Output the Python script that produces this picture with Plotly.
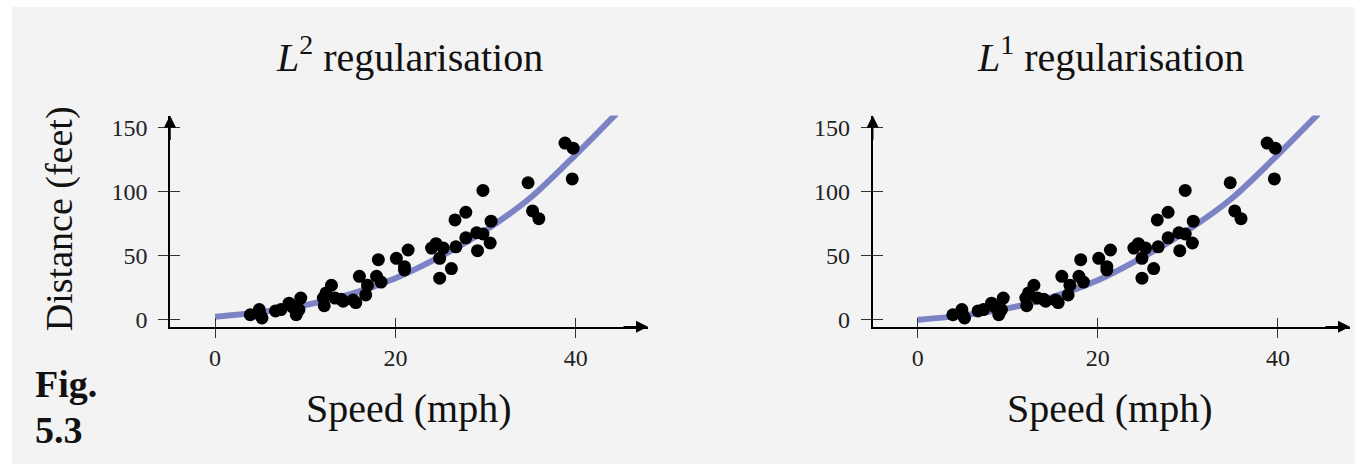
import plotly.graph_objects as go

# ---- data ----
speed = [3.9, 4.9, 5.2, 5.0, 6.7, 7.3, 8.2, 8.6, 9.0, 9.3, 9.5,
         12.1, 12.0, 12.3, 12.9, 13.3, 14.0, 14.2, 15.3, 15.6, 16.0,
         16.7, 16.9, 17.9, 18.4, 18.1, 20.1, 21.0, 21.0, 21.4,
         24.0, 24.5, 25.3, 24.9, 24.9, 26.2, 26.7, 26.6, 27.8, 27.8,
         29.0, 29.1, 29.7, 29.7, 30.5, 30.6, 34.7, 35.2, 35.9,
         38.8, 39.7, 39.6]
distance = [4, 8, 1.5, 4, 7, 8, 13, 10, 4, 8, 17,
            11, 17, 21, 27, 17, 16, 14.5, 15.5, 13.5, 34,
            19.5, 27, 34, 29.5, 47, 48, 41.5, 39, 54.5,
            56, 59.5, 56, 48, 32.5, 40, 57, 78, 84, 64,
            68, 54, 67, 101, 60, 77, 107, 85, 79,
            138, 134, 110]

curve_speed = [0, 5, 10, 15, 20, 25, 30, 35, 40, 44.5]
curve_l2 = [2.5, 6, 11.5, 20, 32.5, 49.5, 70, 95.5, 129, 161]
curve_l1 = [0, 3.5, 9, 18, 31, 49, 70, 95.5, 129, 161]

x_ticks = [0, 20, 40]
y_ticks = [0, 50, 100, 150]
titles = ["<i>L</i><sup>2</sup> regularisation", "<i>L</i><sup>1</sup> regularisation"]
x_title = "Speed (mph)"
y_title = "Distance (feet)"
fig_label = ["Fig.", "5.3"]

# ---- layout helpers ----
W, H = 1355, 470
def fx(p):
    return p / W
def fy(p):
    return 1 - p / H

FONT = "Liberation Serif, Times New Roman, serif"
BG = "#f3f3f3"
CURVE = "#7c83c5"
X_RANGE = [-5.0, 48.0]
Y_RANGE = [-5.4, 159.5]

panels = [(170, 648), (872.7, 1350)]
y_dom = [fy(331), fy(117)]
curves = [curve_l2, curve_l1]

fig = go.Figure()

# curve on the main axes, points on the overlaid axes (which carry the inner tick halves)
axes = [("x", "y", "x3", "y3"), ("x2", "y2", "x4", "y4")]
for i in range(2):
    xa, ya, xo, yo = axes[i]
    fig.add_trace(go.Scatter(x=curve_speed, y=curves[i], mode="lines",
                             line=dict(color=CURVE, width=6, shape="spline", smoothing=0.8),
                             xaxis=xa, yaxis=ya, hoverinfo="skip", showlegend=False))
    fig.add_trace(go.Scatter(x=speed, y=distance, mode="markers",
                             marker=dict(color="black", size=13),
                             xaxis=xo, yaxis=yo, showlegend=False, cliponaxis=False))

common_x = dict(range=X_RANGE, tickvals=x_ticks, showgrid=False, zeroline=False,
                showline=True, linecolor="black", linewidth=1.6,
                ticks="outside", ticklen=9, tickwidth=1.2, tickcolor="#333",
                tickfont=dict(family=FONT, size=24, color="#222"), fixedrange=True)
common_y = dict(range=Y_RANGE, tickvals=y_ticks, showgrid=False, zeroline=False,
                showline=True, linecolor="black", linewidth=1.6,
                ticks="outside", ticklen=10, tickwidth=1.2, tickcolor="#333",
                ticklabelstandoff=6,
                tickfont=dict(family=FONT, size=24, color="#222"), fixedrange=True)
inner_x = dict(range=X_RANGE, tickvals=x_ticks, showgrid=False, zeroline=False,
               showline=False, showticklabels=False,
               ticks="inside", ticklen=9, tickwidth=1.2, tickcolor="#333", fixedrange=True)
inner_y = dict(range=Y_RANGE, tickvals=y_ticks, showgrid=False, zeroline=False,
               showline=False, showticklabels=False,
               ticks="inside", ticklen=10, tickwidth=1.2, tickcolor="#333", fixedrange=True)

fig.update_layout(
    width=W, height=H,
    margin=dict(l=0, r=0, t=0, b=0),
    paper_bgcolor="white", plot_bgcolor="rgba(0,0,0,0)",
    font=dict(family=FONT, color="#111"),
    xaxis=dict(domain=[fx(panels[0][0]), fx(panels[0][1])], anchor="y", **common_x),
    yaxis=dict(domain=y_dom, anchor="x", **common_y),
    xaxis2=dict(domain=[fx(panels[1][0]), fx(panels[1][1])], anchor="y2", **common_x),
    yaxis2=dict(domain=y_dom, anchor="x2", **common_y),
    xaxis3=dict(overlaying="x", anchor="y3", **inner_x),
    yaxis3=dict(overlaying="y", anchor="x3", **inner_y),
    xaxis4=dict(overlaying="x2", anchor="y4", **inner_x),
    yaxis4=dict(overlaying="y2", anchor="x4", **inner_y),
)

# grey page background
fig.add_shape(type="rect", xref="paper", yref="paper", x0=fx(12), x1=1, y0=0, y1=fy(7),
              fillcolor=BG, line=dict(width=0), layer="below")

ann = []
title_cx = [409, 1110]
for i in range(2):
    xs, ys = axes[i][0], axes[i][1]
    # axis arrows
    ann.append(dict(x=1, y=0, xref=f"{xs} domain", yref=f"{ys} domain",
                    ax=-26, ay=0, axref="pixel", ayref="pixel", text="",
                    showarrow=True, arrowhead=2, arrowsize=1.6, arrowwidth=1.5, arrowcolor="black"))
    ann.append(dict(x=0, y=1, xref=f"{xs} domain", yref=f"{ys} domain",
                    ax=0, ay=26, axref="pixel", ayref="pixel", text="",
                    showarrow=True, arrowhead=2, arrowsize=1.6, arrowwidth=1.5, arrowcolor="black"))
    # titles
    ann.append(dict(x=fx(title_cx[i]), y=fy(55), xref="paper", yref="paper",
                    text=titles[i], showarrow=False, xanchor="center", yanchor="middle",
                    font=dict(family=FONT, size=40, color="#111")))
    ann.append(dict(x=fx(title_cx[i]), y=fy(414), xref="paper", yref="paper",
                    text=x_title, showarrow=False, xanchor="center", yanchor="middle",
                    font=dict(family=FONT, size=40, color="#111")))

ann.append(dict(x=fx(59), y=fy(222), xref="paper", yref="paper", text=y_title,
                textangle=-90, showarrow=False, xanchor="center", yanchor="middle",
                font=dict(family=FONT, size=38, color="#111")))
ann.append(dict(x=fx(33), y=fy(389), xref="paper", yref="paper", text=f"<b>{fig_label[0]}</b>",
                showarrow=False, xanchor="left", yanchor="middle",
                font=dict(family=FONT, size=38, color="#111")))
ann.append(dict(x=fx(33), y=fy(436), xref="paper", yref="paper", text=f"<b>{fig_label[1]}</b>",
                showarrow=False, xanchor="left", yanchor="middle",
                font=dict(family=FONT, size=38, color="#111")))

fig.update_layout(annotations=ann)
fig.write_html("out.html")
